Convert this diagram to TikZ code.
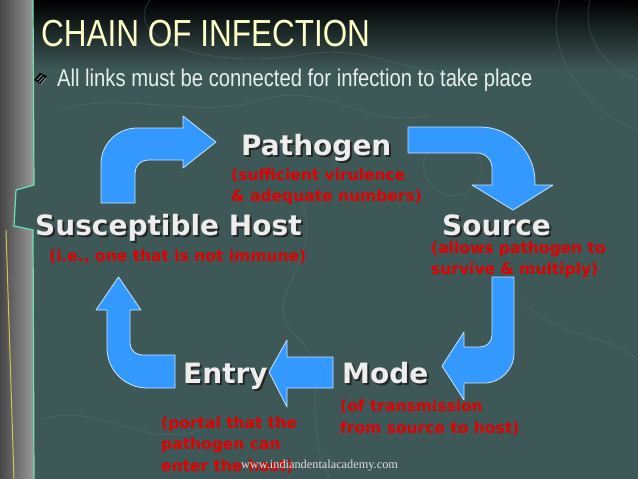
\documentclass[tikz,border=0pt]{standalone}
\usepackage{fontspec}
\setmainfont{DejaVu Sans}
\newfontfamily\headfont[FakeStretch=0.835]{Liberation Sans}
\newfontfamily\webfont{Liberation Serif}
\usetikzlibrary{positioning}
\definecolor{slide}{HTML}{3E5857}
\definecolor{linkblue}{HTML}{3399FF}
\definecolor{linkedge}{HTML}{C8E4FF}
\definecolor{notered}{HTML}{E00000}
\definecolor{titleyellow}{HTML}{FFFFC8}
\definecolor{subwhite}{HTML}{E6EFEA}
\definecolor{contour}{HTML}{5A8282}
\definecolor{mapedge}{HTML}{6FE0B0}
\tikzset{
  link/.style={
    fill = linkblue,
    draw = linkedge,
    line width = 0.8pt,
    line join = round
  },
  stage/.style={
    inner sep = 0pt,
    anchor = base west,
    text = white!93!black,
    font = \bfseries\fontsize{28}{28}\selectfont
  },
  note/.style={
    inner sep = 0pt,
    anchor = base west,
    align = left,
    text = notered,
    font = \bfseries\fontsize{15.5}{21.7}\selectfont
  },
  contourline/.style={
    draw = contour,
    line width = 0.6pt,
    opacity = 0.45
  },
}

\begin{document}
\begin{tikzpicture}[x=1pt,y=-1pt]
\useasboundingbox (0,0) rectangle (638,479);
% slide background
\fill[slide] (0,0) rectangle (638,479);
\shade[top color=black, bottom color=slide] (0,0) rectangle (638,70);
\draw[contourline] (150,0) .. controls (120,40) and (210,70) .. (300,55) .. controls (380,40) and (420,90) .. (520,70);
\draw[contourline] (60,110) .. controls (120,90) and (200,120) .. (260,100) .. controls (330,80) and (360,130) .. (430,115);
\draw[contourline] (560,0) .. controls (540,60) and (600,120) .. (638,130);
\draw[contourline] (590,0) .. controls (580,40) and (610,70) .. (638,80);
\draw[contourline] (300,200) .. controls (330,260) and (250,300) .. (300,340) .. controls (330,370) and (300,420) .. (330,479);
\draw[contourline] (520,300) .. controls (560,340) and (600,330) .. (638,360);
\draw[contourline] (40,420) .. controls (100,400) and (140,450) .. (200,430);
\draw[contourline] (430,150) .. controls (470,130) and (500,170) .. (470,190) .. controls (440,210) and (410,170) .. (430,150);
% map strip on the left
\shade[left color=gray!55!black, right color=gray!80] (0,0) -- (33,0) -- (34,185) -- (16,190) -- (14,226) -- (33,230) -- (34,479) -- (0,479) -- cycle;
\draw[yellow!70!white, line width=1pt, opacity=0.7] (6,230) -- (14,479);
\draw[mapedge, line width=1.2pt] (33,0) -- (34,185) -- (16,190) -- (14,226) -- (33,230) -- (34,479);
% title and bullet
\node[anchor=base west, inner sep=0pt, text=titleyellow, font=\headfont\fontsize{37.7}{40}\selectfont] (title) at (41,46.7) {CHAIN OF INFECTION};
\node[anchor=base west, inner sep=0pt, text=subwhite, font=\headfont\fontsize{24.2}{26}\selectfont] (subtitle) at (57,86) {All links must be connected for infection to take place};
\fill[black] (34,80) -- (40,73) -- (47,76) -- (41,84) -- cycle;
\draw[slide!60!white, line width=0.8pt] (37,80) -- (42,75) (39,82) -- (44,77) (41,84) -- (46,78);
% block arrows of the chain
\filldraw[link] (101,203) -- (101,164) arc[start angle=180, end angle=90, radius=36pt] -- (183,128) -- (183,116) -- (216,142) -- (183,168) -- (183,160) -- (148,160) arc[start angle=90, end angle=180, radius=13pt] -- (135,203) -- cycle;
\filldraw[link] (408,127) -- (480,127) arc[start angle=90, end angle=0, radius=55pt] -- (535,185) -- (553,185) -- (513,210) -- (472,185) -- (492,185) -- (492,168) arc[start angle=0, end angle=90, radius=15pt] -- (408,153) -- cycle;
\filldraw[link] (492,277) -- (514,277) -- (514,353) arc[start angle=0, end angle=-90, radius=30pt] -- (464,383) -- (464,400) -- (442,366) -- (464,332) -- (464,347) -- (480,347) arc[start angle=-90, end angle=0, radius=12pt] -- cycle;
\filldraw[link] (333,357) -- (287,357) -- (287,340) -- (269,372) -- (287,407) -- (287,388) -- (333,388) -- cycle;
\filldraw[link] (175,355) -- (175,388) -- (147,388) arc[start angle=270, end angle=180, radius=40pt] -- (107,310) -- (96,310) -- (118.5,277) -- (141,310) -- (130,310) -- (130,343) arc[start angle=180, end angle=270, radius=12pt] -- cycle;
% stages, with their shadows
\foreach \n/\x/\y/\t in {pathogen/241/155/Pathogen, host/35/235/Susceptible Host, source/442/235/Source, entry/183/383/Entry, mode/342/383/Mode}{
  \node[stage, text=black!85] (\n-shadow) at (\x+2,\y+2) {\t};
  \node[stage] (\n) at (\x,\y) {\t};
}
% notes (anchored on their last line)
\node[note] (pathogen-note) at (231,201.7) {(sufficient virulence\\\& adequate numbers)};
\node[note] (host-note) at (49,261.6) {(i.e., one that is not immune)};
\node[note] (source-note) at (431,274.9) {(allows pathogen to\\survive \& multiply)};
\node[note] (mode-note) at (340,433.3) {(of transmission\\from source to host)};
\node[note] (entry-note) at (161,471.6) {(portal that the\\pathogen can\\enter the host)};
\node[font=\webfont\fontsize{12.3}{14}\selectfont, text=white!88!black, inner sep=0pt] (web) at (319.5,465.7) {www.indiandentalacademy.com};
\end{tikzpicture}
\end{document}
